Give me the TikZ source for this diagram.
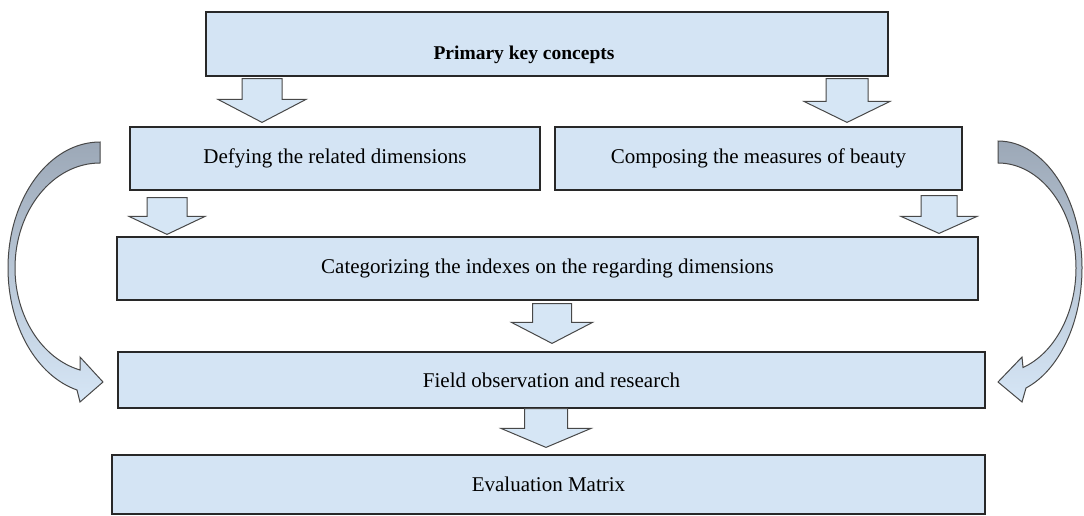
\documentclass[tikz,border=0pt]{standalone}
\usepackage{fontspec}
\setmainfont{Liberation Serif}
\usetikzlibrary{calc}
\definecolor{boxfill}{RGB}{212,228,244}
\definecolor{arrfill}{RGB}{214,230,245}
\definecolor{edgec}{RGB}{40,40,40}
\definecolor{curvetop}{RGB}{156,168,183}
\definecolor{curvebot}{RGB}{214,230,246}
% #1 x, #2 source node, #3 target node, #4 shaft half width, #5 head half width,
% #6 gap below source, #7 head length, #8 gap above target
\newcommand\blockdown[8]{%
  \coordinate (bx) at (#1,0);
  \draw[barrow] ($(bx|-#2.south)+(-#4,#6)$) -- ($(bx|-#2.south)+(#4,#6)$)
    -- ($(bx|-#3.north)+(#4,-#8-#7)$) -- ($(bx|-#3.north)+(#5,-#8-#7)$)
    -- ($(bx|-#3.north)+(0,-#8)$)
    -- ($(bx|-#3.north)+(-#5,-#8-#7)$) -- ($(bx|-#3.north)+(-#4,-#8-#7)$) -- cycle;}
\begin{document}
\begin{tikzpicture}[x=1pt,y=-1pt,
  box/.style={draw=edgec, line width=1.2pt, fill=boxfill, inner sep=0pt,
    font=\fontsize{21}{25}\selectfont},
  barrow/.style={draw=edgec!85, line width=1pt, fill=arrfill, line join=miter},
  curvearrow/.style={draw=edgec!85, line width=1pt, top color=curvetop, bottom color=curvebot}]
\useasboundingbox (0,0) rectangle (1084,515);

\node[box, minimum width=682pt, minimum height=64pt] (top) at (547,44)
  {\kern-46pt\raisebox{-15pt}[0pt][0pt]{\fontsize{19.5}{23}\selectfont\bfseries Primary key concepts}};
\node[box, minimum width=410pt, minimum height=63pt] (def) at (335,158.5)
  {Defying the related dimensions};
\node[box, minimum width=407pt, minimum height=63pt] (comp) at (758.5,158.5)
  {Composing the measures of beauty};
\node[box, minimum width=861pt, minimum height=63pt] (cat) at (547.5,268.5)
  {Categorizing the indexes on the regarding dimensions};
\node[box, minimum width=867pt, minimum height=56pt] (field) at (551.5,380)
  {Field observation and research};
\node[box, minimum width=873pt, minimum height=59pt] (eval) at (548.5,484.5)
  {Evaluation Matrix};

\blockdown{262}{top}{def}{20}{44}{2}{23}{4}
\blockdown{847}{top}{comp}{21}{43}{2}{21}{4}
\blockdown{167}{def}{cat}{20}{38}{7}{18}{2}
\blockdown{939}{comp}{cat}{18}{38}{5}{17}{3}
\blockdown{552}{cat}{field}{19.5}{40.5}{3}{21}{8}
\blockdown{546}{field}{eval}{21.5}{45}{0}{19}{7}

\coordinate (ltip) at (103,382);
\coordinate (rtip) at (998,382);
\draw[curvearrow] (100,142) .. controls (49.2,142) and (8,198.4) .. (8,268)
  .. controls (8,325.5) and (36.3,375.6) .. (77,390) -- (80,402) -- (ltip)
  -- (80,357) -- (80,370) .. controls (41.9,358.6) and (15,316.5) .. (15,268)
  .. controls (15,210) and (53.1,163) .. (100,163) -- cycle;
\draw[curvearrow] (998,141) .. controls (1044.4,141) and (1082,197.9) .. (1082,268)
  .. controls (1082,321.8) and (1059.5,370.1) .. (1026,388) -- (1022,402) -- (rtip)
  -- (1022,357) -- (1023,367.5) .. controls (1054.6,353.1) and (1076,313) .. (1076,268)
  .. controls (1076,210) and (1041,163) .. (998,163) -- cycle;
\end{tikzpicture}
\end{document}
